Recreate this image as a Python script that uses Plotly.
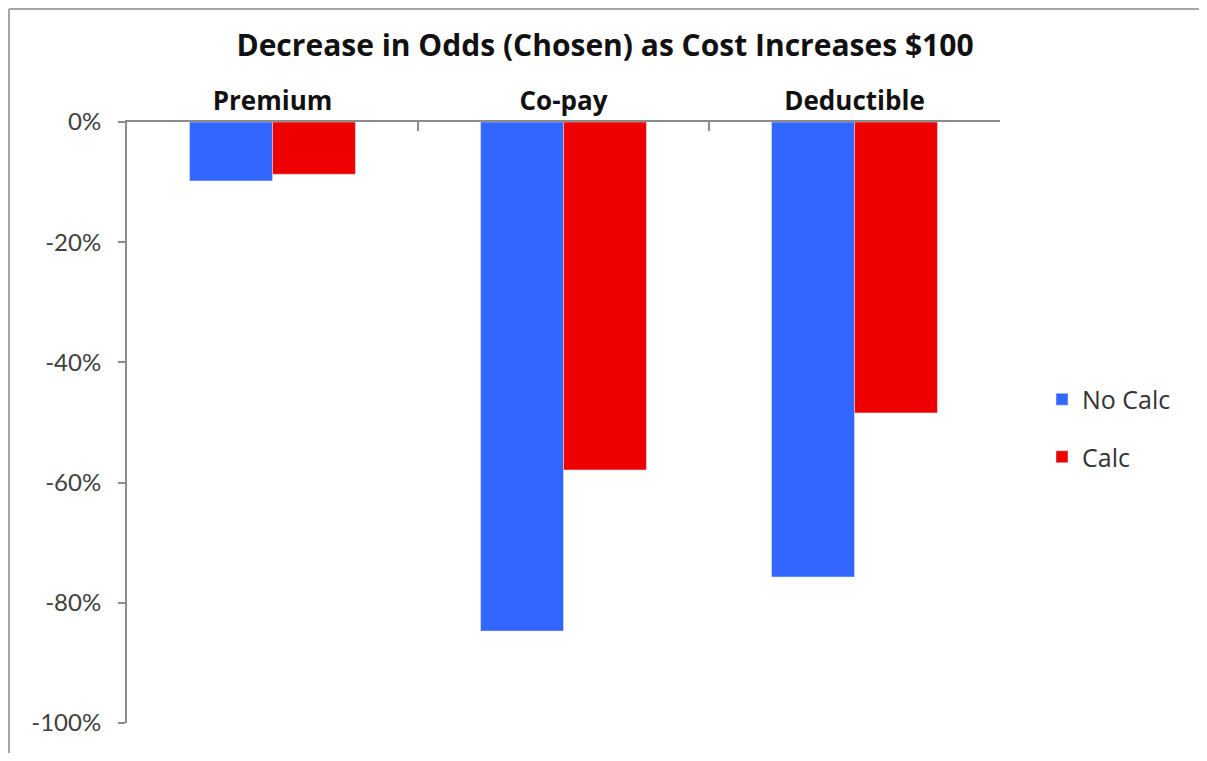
import plotly.graph_objects as go

categories = ["Premium", "Co-pay", "Deductible"]
no_calc = [-9.8, -84.7, -75.7]
calc = [-8.7, -57.9, -48.4]
y_tick_vals = [0, -20, -40, -60, -80, -100]
y_tick_labels = ["0%", "-20%", "-40%", "-60%", "-80%", "-100%"]

# the page body adds an 8px margin all round; keep the figure inside the window
W, H = 1191, 745
L, R, T, B = 119, 199, 114, 30
pw, ph = W - L - R, H - T - B


def px_x(x):
    return (x - L) / pw


def px_y(y):
    return (H - B - y) / ph


fig = go.Figure()
fig.add_trace(go.Bar(x=categories, y=no_calc, name="No Calc", marker_color="#3366FF",
                     legendgroup="a"))
fig.add_trace(go.Bar(x=categories, y=calc, name="Calc", marker_color="#EE0000",
                     legendgroup="b"))

# chart frame: only its top and left edges show in the picture
frame = dict(color="#a6a6a6", width=2)
fig.update_layout(
    width=W, height=H,
    margin=dict(l=L, r=R, t=T, b=B),
    paper_bgcolor="white", plot_bgcolor="white",
    font=dict(family="Lato", color="#404040"),
    title=dict(text="<b>Decrease in Odds (Chosen) as Cost Increases $100</b>",
               x=597 / W, xanchor="center", y=1 - 37 / H, yanchor="middle",
               font=dict(size=30, color="#111111", family="Open Sans")),
    barmode="group", bargap=0.43, bargroupgap=0,
    legend=dict(x=px_x(1034), xanchor="left", y=px_y(420), yanchor="middle",
                font=dict(size=25, color="#333333", family="Open Sans"), tracegroupgap=22,
                traceorder="grouped"),
    shapes=[
        dict(type="line", xref="paper", yref="paper", x0=px_x(1), x1=px_x(W),
             y0=px_y(1), y1=px_y(1), line=frame),
        dict(type="line", xref="paper", yref="paper", x0=px_x(1), x1=px_x(1),
             y0=px_y(1), y1=px_y(H), line=frame),
    ],
)
fig.update_xaxes(type="category", side="top", showline=True, linecolor="#8c8c8c", linewidth=2,
                 ticks="inside", tickson="boundaries", ticklen=9, tickcolor="#8c8c8c",
                 tickwidth=2, showgrid=False, ticklabelstandoff=0,
                 tickfont=dict(size=26, color="#111111", family="Open Sans", weight="bold"))
fig.update_yaxes(range=[-100, 0], tickvals=y_tick_vals, ticktext=y_tick_labels,
                 showline=True, linecolor="#8c8c8c", linewidth=2, ticks="outside",
                 ticklen=7, tickcolor="#8c8c8c", tickwidth=2, showgrid=False, zeroline=False,
                 ticklabelstandoff=12, tickfont=dict(size=24, color="#404040"))

fig.write_html("out.html")
